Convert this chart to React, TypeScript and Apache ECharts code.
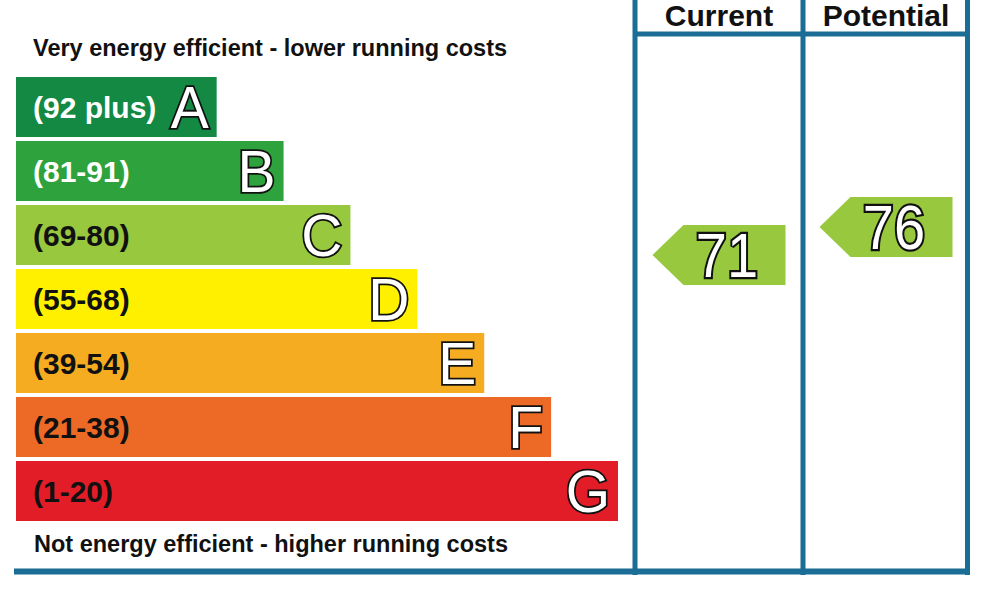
import React, { useEffect, useRef } from "react";
import * as echarts from "echarts";

const bands = ["A", "B", "C", "D", "E", "F", "G"];
const ranges = ["(92 plus)", "(81-91)", "(69-80)", "(55-68)", "(39-54)", "(21-38)", "(1-20)"];
const bandLengths = [3, 4, 5, 6, 7, 8, 9];
const bandColors = ["#138943", "#2ea23c", "#98c83d", "#fff000", "#f5ac20", "#ec6a26", "#e21d27"];
const rangeTextColors = ["#ffffff", "#ffffff", "#111111", "#111111", "#111111", "#111111", "#111111"];
const ratingColumns = ["Current", "Potential"];
const ratingValues = [71, 76];
const topNote = "Very energy efficient - lower running costs";
const bottomNote = "Not energy efficient - higher running costs";

const FONT = "'Liberation Sans', Arial, Helvetica, sans-serif";
const BORDER = "#1a6d94";
const ARROW = "#98c83d";

export default function App() {
  const ref = useRef<HTMLDivElement>(null);
  useEffect(() => {
    if (!ref.current) return;
    const chart = echarts.init(ref.current, null, { renderer: "svg" });
    const option: any = {
      animation: false,
      backgroundColor: "#ffffff",
      grid: [
        { left: 16, top: 75, width: 602, height: 448 },
        { left: 635.5, top: 148.6, width: 334, height: 224 },
      ],
      xAxis: [
        { type: "value", gridIndex: 0, min: 0, max: 9, show: false },
        { type: "category", gridIndex: 1, data: ratingColumns, show: false, boundaryGap: true },
      ],
      yAxis: [
        { type: "category", gridIndex: 0, data: bands, inverse: true, show: false },
        { type: "value", gridIndex: 1, min: 50, max: 90, show: false },
      ],
      series: [
        {
          type: "bar",
          xAxisIndex: 0,
          yAxisIndex: 0,
          barWidth: 60,
          silent: true,
          z: 2,
          data: bandLengths.map((v, i) => ({
            value: v,
            itemStyle: { color: bandColors[i] },
            label: { color: rangeTextColors[i] },
          })),
          label: {
            show: true,
            position: "insideLeft",
            distance: 17,
            formatter: (p: any) => ranges[p.dataIndex],
            fontFamily: FONT,
            fontWeight: "bold",
            fontSize: 30,
          },
        },
        {
          type: "custom",
          xAxisIndex: 0,
          yAxisIndex: 0,
          silent: true,
          z: 5,
          clip: false,
          encode: { x: 0, y: 1 },
          data: bandLengths.map((v, i) => [v, i]),
          renderItem: (params: any, api: any) => {
            const pt = api.coord([api.value(0), api.value(1)]);
            return {
              type: "text",
              x: pt[0] - 8,
              y: pt[1],
              scaleY: 1.04,
              z2: 10,
              style: {
                text: bands[params.dataIndex],
                fill: "#ffffff",
                stroke: "#111111",
                lineWidth: 3.5,
                fontFamily: FONT,
                fontSize: 57,
                align: "right",
                verticalAlign: "middle",
              },
            };
          },
        },
        {
          type: "custom",
          xAxisIndex: 1,
          yAxisIndex: 1,
          silent: true,
          z: 5,
          data: ratingValues.map((v, i) => [i, v]),
          renderItem: (params: any, api: any) => {
            const pt = api.coord([api.value(0), api.value(1)]);
            const x0 = pt[0] - 66.5;
            const y = pt[1];
            return {
              type: "group",
              children: [
                {
                  type: "polygon",
                  shape: {
                    points: [
                      [x0, y],
                      [x0 + 31, y - 30],
                      [x0 + 133, y - 30],
                      [x0 + 133, y + 30],
                      [x0 + 31, y + 30],
                    ],
                  },
                  style: { fill: ARROW },
                },
                {
                  type: "text",
                  x: pt[0] + 8,
                  y: y,
                  scaleY: 1.14,
                  style: {
                    text: String(api.value(1)),
                    fill: "#ffffff",
                    stroke: "#111111",
                    lineWidth: 4,
                    fontFamily: FONT,
                    fontSize: 56,
                    align: "center",
                    verticalAlign: "middle",
                  },
                },
              ],
            };
          },
        },
      ],
      graphic: [
        { type: "line", shape: { x1: 635, y1: 0, x2: 635, y2: 575 }, style: { stroke: BORDER, lineWidth: 5 } },
        { type: "line", shape: { x1: 803, y1: 0, x2: 803, y2: 575 }, style: { stroke: BORDER, lineWidth: 5 } },
        { type: "line", shape: { x1: 967.5, y1: 0, x2: 967.5, y2: 575 }, style: { stroke: BORDER, lineWidth: 5 } },
        { type: "line", shape: { x1: 635, y1: 34, x2: 968, y2: 34 }, style: { stroke: BORDER, lineWidth: 5 } },
        { type: "line", shape: { x1: 14, y1: 571.5, x2: 970, y2: 571.5 }, style: { stroke: BORDER, lineWidth: 6 } },
        {
          type: "text",
          x: 719,
          y: 15,
          style: { text: ratingColumns[0], fill: "#111", fontFamily: FONT, fontWeight: "bold", fontSize: 30, align: "center", verticalAlign: "middle" },
        },
        {
          type: "text",
          x: 886,
          y: 15,
          style: { text: ratingColumns[1], fill: "#111", fontFamily: FONT, fontWeight: "bold", fontSize: 30, align: "center", verticalAlign: "middle" },
        },
        {
          type: "text",
          x: 33,
          y: 48,
          style: { text: topNote, fill: "#111", fontFamily: FONT, fontWeight: "bold", fontSize: 23.5, align: "left", verticalAlign: "middle" },
        },
        {
          type: "text",
          x: 34,
          y: 544,
          style: { text: bottomNote, fill: "#111", fontFamily: FONT, fontWeight: "bold", fontSize: 23.5, align: "left", verticalAlign: "middle" },
        },
      ],
    };
    chart.setOption(option);
    return () => chart.dispose();
  }, []);
  return <div ref={ref} style={{ position: "fixed", left: 0, top: 0, width: 1000, height: 596 }} />;
}
